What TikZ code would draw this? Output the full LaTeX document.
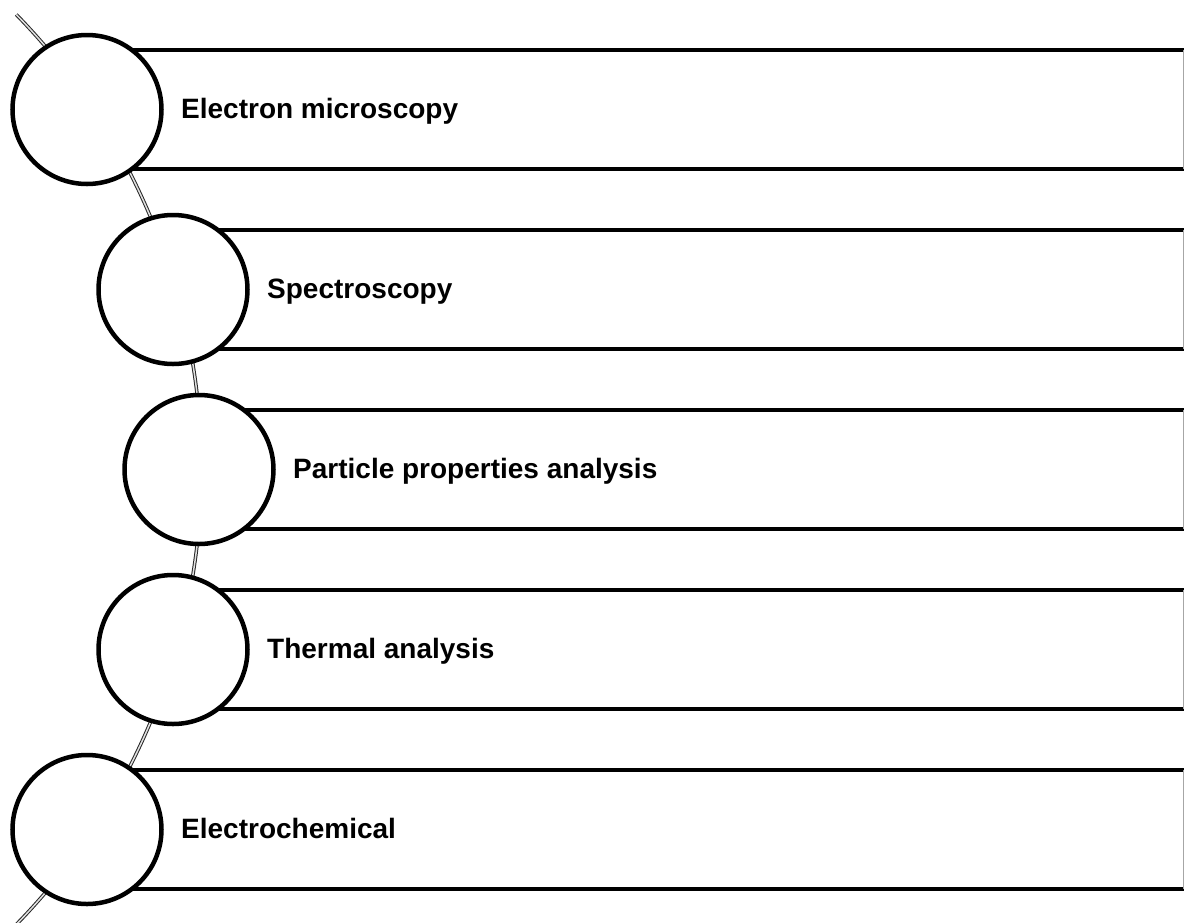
\documentclass[tikz,border=0pt]{standalone}
\usepackage{fontspec}
\setmainfont{Liberation Sans}
\begin{document}
\begin{tikzpicture}[x=1pt,y=-1pt,
  band/.style={fill=white, inner sep=0pt, minimum height=119pt, anchor=west},
  bandedge/.style={line width=4pt, black},
  bandend/.style={line width=1pt, black!35},
  bubble/.style={circle, draw=black, fill=white, line width=4.5pt, inner sep=0pt, minimum size=149pt},
  label/.style={anchor=base west, inner sep=0pt, font=\fontsize{28}{30}\selectfont\bfseries},
  spine/.style={draw=black!85, line width=1pt, double=black!12, double distance=1.5pt}
]
\useasboundingbox (0,0) rectangle (1184,922);
\clip (0,0) rectangle (1184,922);

% curved spine through the bubbles
\draw[spine] (-450,469.5) ++(-44.3:651.5) arc[start angle=-44.3, end angle=46, radius=651.5];

% rows: bubble centre x, centre y, text
\foreach \i/\cx/\cy/\txt in {1/87/109.5/Electron microscopy,
                             2/173/289.5/Spectroscopy,
                             3/199/469.5/Particle properties analysis,
                             4/173/649.5/Thermal analysis,
                             5/87/829.5/Electrochemical}{
  \pgfmathsetmacro{\w}{1183.5-\cx}
  \node[band, minimum width=\w pt] (r\i) at (\cx,\cy) {};
  \draw[bandedge] (r\i.north west) -- (r\i.north east);
  \draw[bandedge] (r\i.south west) -- (r\i.south east);
  \draw[bandend] (r\i.north east) -- (r\i.south east);
  \node[bubble] (c\i) at (\cx,\cy) {};
  \node[label] (t\i) at (\cx+94,\cy+8.8) {\txt};
}
\end{tikzpicture}
\end{document}
